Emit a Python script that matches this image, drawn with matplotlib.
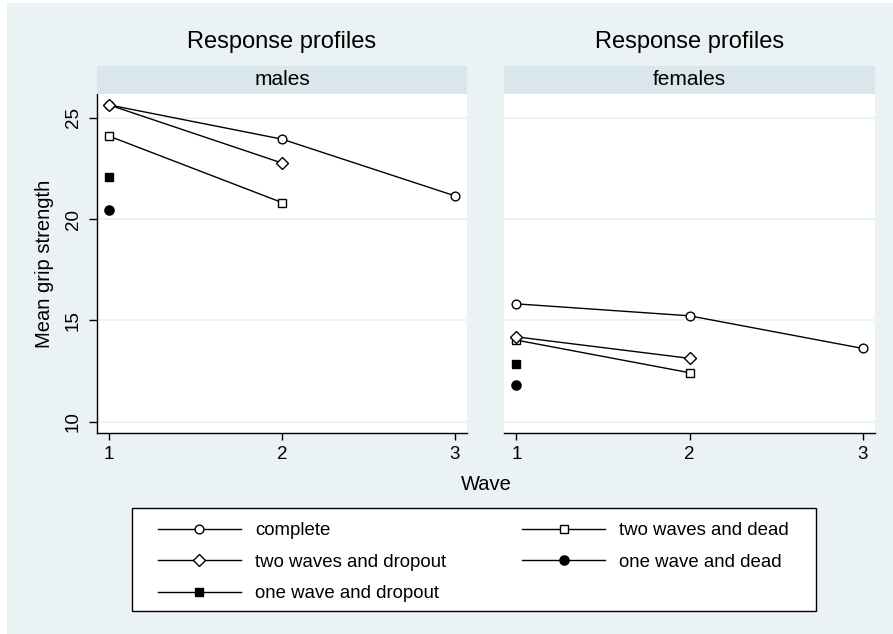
import matplotlib
matplotlib.use("Agg")
import matplotlib.pyplot as plt
from matplotlib.patches import Rectangle
from matplotlib.lines import Line2D

plt.rcParams['font.family'] = ['Liberation Sans', 'DejaVu Sans']

# mean grip strength by wave, per dropout pattern
waves = [1, 2, 3]
groups = ["complete", "two waves and dead", "two waves and dropout",
          "one wave and dead", "one wave and dropout"]
males = {
    "complete": [25.64, 23.95, 21.15],
    "two waves and dead": [24.10, 20.82],
    "two waves and dropout": [25.64, 22.77],
    "one wave and dead": [20.45],
    "one wave and dropout": [22.07],
}
females = {
    "complete": [15.82, 15.23, 13.62],
    "two waves and dead": [14.03, 12.42],
    "two waves and dropout": [14.19, 13.13],
    "one wave and dead": [11.80],
    "one wave and dropout": [12.83],
}
panels = ["males", "females"]
yticks = [10, 15, 20, 25]

markers = {
    "complete": dict(marker="o", mfc="white", ms=6.3),
    "two waves and dead": dict(marker="s", mfc="white", ms=6.0),
    "two waves and dropout": dict(marker="D", mfc="white", ms=6.3),
    "one wave and dead": dict(marker="o", mfc="black", ms=6.6),
    "one wave and dropout": dict(marker="s", mfc="black", ms=6.4),
}

W, H = 893, 634
BG = "#eaf2f3"
STRIP = "#d9e6eb"


def fx(px):
    return px / W


def fy(py):
    return 1 - py / H


fig = plt.figure(figsize=(W / 100, H / 100), dpi=100, facecolor="white")
fig.patches.append(Rectangle((fx(7), 0), 1 - fx(7), fy(3), transform=fig.transFigure,
                             facecolor=BG, edgecolor="none", zorder=-10))

ax_top, ax_bot = 94, 433.3
strip_top = 65.7
xspans = [(96.7, 467.3), (504, 875)]
data = [males, females]

for i, (x0, x1) in enumerate(xspans):
    ax = fig.add_axes([fx(x0), fy(ax_bot), fx(x1 - x0), (ax_bot - ax_top) / H])
    ax.set_facecolor("white")
    for g in groups:
        ys = data[i][g]
        ax.plot(waves[:len(ys)], ys, color="black", lw=1.0, mec="black", mew=1.0,
                **markers[g], label=g)
    ax.set_xlim(0.928, 3.071)
    ax.set_ylim(9.43, 26.18)
    ax.set_xticks(waves)
    ax.set_yticks(yticks)
    ax.grid(axis="y", color=BG, lw=1.3)
    ax.set_axisbelow(True)
    for s in ["top", "right"]:
        ax.spines[s].set_visible(False)
    ax.spines["bottom"].set_linewidth(1.0)
    ax.tick_params(axis="x", length=5, width=1.0, labelsize=13.5, pad=4)
    if i == 0:
        ax.spines["left"].set_linewidth(1.0)
        ax.tick_params(axis="y", length=5.5, width=1.0, labelsize=13.5, pad=5, labelrotation=90)
        for t in ax.get_yticklabels():
            t.set_va("center")
    else:
        ax.spines["left"].set_visible(False)
        ax.tick_params(axis="y", left=False, labelleft=False)

    sax = fig.add_axes([fx(x0), fy(ax_top), fx(x1 - x0), (ax_top - strip_top) / H])
    sax.set_facecolor(STRIP)
    sax.set_xticks([])
    sax.set_yticks([])
    for s in sax.spines.values():
        s.set_visible(False)
    sax.text(0.5, 0.5, panels[i], ha="center", va="center", fontsize=15, transform=sax.transAxes)

    fig.text(fx((x0 + x1) / 2), fy(42.3), "Response profiles", ha="center", va="center", fontsize=17)

fig.text(fx(45), fy((ax_top + ax_bot) / 2), "Mean grip strength", rotation=90,
         ha="center", va="center", fontsize=14.5)
fig.text(fx(486), fy(485), "Wave", ha="center", va="center", fontsize=14.5)

# legend box
fig.patches.append(Rectangle((fx(132), fy(611)), fx(816 - 132), (611 - 508) / H,
                             transform=fig.transFigure, facecolor="white",
                             edgecolor="black", lw=1.0, zorder=1))
order = ["complete", "two waves and dropout", "one wave and dropout",
         "two waves and dead", "one wave and dead"]
handles = [Line2D([], [], color="black", lw=1.0, mec="black", mew=1.0, **markers[g]) for g in order]
leg = fig.legend(handles, order, loc="upper left", bbox_to_anchor=(fx(158), fy(522)),
                 ncol=2, frameon=False, borderpad=0, fontsize=13.4, handlelength=4.45,
                 handletextpad=0.75, columnspacing=4.1, labelspacing=0.78, borderaxespad=0)
leg.set_zorder(2)

fig.savefig("out.png", dpi=100, facecolor="white")
